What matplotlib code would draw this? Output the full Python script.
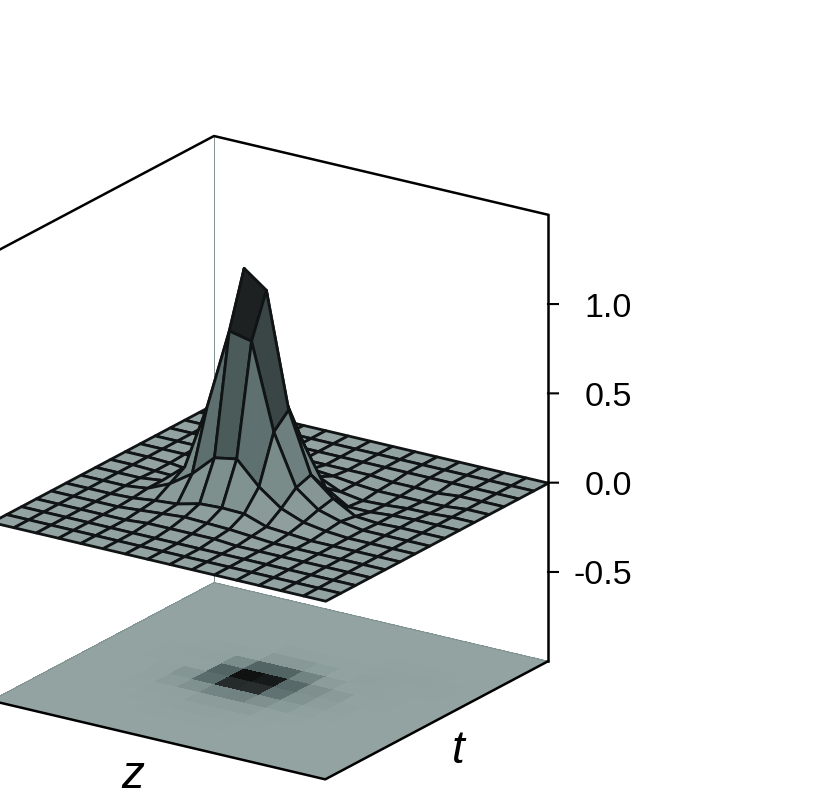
import numpy as np
import matplotlib
matplotlib.use("Agg")
import matplotlib.pyplot as plt
from matplotlib.colors import LinearSegmentedColormap, Normalize
from mpl_toolkits.mplot3d import proj3d

plt.rcParams['font.family'] = ['Liberation Sans', 'DejaVu Sans']

z_grid = list(range(16))
t_grid = list(range(16))
z_limits = [-1.0, 1.5]
ztick_values = [-0.5, 0.0, 0.5, 1.0]
ztick_labels = ['-0.5', '0.0', '0.5', '1.0']
height = [
    # t index 0 .. 15
    [0, 0, 0, 0, 0, 0, 0, 0, 0, 0, 0, 0, 0, 0, 0, 0],
    [0, 0, 0, 0, 0, 0, 0, 0, 0, 0, 0, 0, 0, 0, 0, 0],
    [0, 0, 0, 0, 0, 0, 0, 0, -.005, -.005, 0, 0, 0, 0, 0, 0],
    [0, 0, 0, 0, 0, .005, .015, .015, -.01, -.02, -.01, 0, 0, 0, 0, 0],
    [0, 0, 0, 0, .01, .02, .07, .12, .02, -.025, -.015, 0, 0, 0, 0, 0],
    [0, 0, 0, .01, .02, .03, .155, .483, .55, .2, .01, 0, 0, 0, 0, 0],
    [0, 0, 0, .01, .03, .061, .274, .94, 1.246, .55, .09, .02, 0, 0, 0, 0],
    [0, 0, 0, .01, .025, .067, .297, .912, 1.152, .55, .1, .02, 0, 0, 0, 0],
    [0, 0, 0, .01, .02, .063, .17, .433, .512, .28, .05, .01, 0, 0, 0, 0],
    [0, 0, 0, 0, .01, .02, .078, .15, .178, .06, -.005, -.005, 0, 0, 0, 0],
    [0, 0, 0, 0, 0, .01, .03, .056, .075, -.015, -.025, -.015, -.01, 0, 0, 0],
    [0, 0, 0, 0, 0, 0, .01, .02, .005, -.015, -.02, -.015, -.01, 0, 0, 0],
    [0, 0, 0, 0, 0, 0, 0, 0, -.005, -.005, -.01, -.015, -.012, 0, 0, 0],
    [0, 0, 0, 0, 0, 0, 0, 0, 0, 0, -.008, -.012, 0, 0, 0, 0],
    [0, 0, 0, 0, 0, 0, 0, 0, 0, 0, 0, 0, 0, 0, 0, 0],
    [0, 0, 0, 0, 0, 0, 0, 0, 0, 0, 0, 0, 0, 0, 0, 0],
]

W, H_PX = 817, 792
fig = plt.figure(figsize=(W / 100, H_PX / 100), dpi=100)
ax = fig.add_axes([0, 0, 600 / W, 600 / H_PX], projection='3d', computed_zorder=False)
ax.set_proj_type('ortho')
ax.view_init(elev=20.7, azim=-56.3)
ax.set_box_aspect((402, 402, 478))
ax.set_axis_off()
ax.patch.set_alpha(0)
for axis in (ax.xaxis, ax.yaxis, ax.zaxis):
    axis.set_ticks([])

zv = np.array(z_grid, float)
tv = np.array(t_grid, float)
Hgt = np.array(height, float)
X, Y = np.meshgrid(zv, tv, indexing='ij')
x0, x1, y0, y1 = zv[0], zv[-1], tv[0], tv[-1]
zlo, ztop = z_limits
ax.set_xlim(x0, x1)
ax.set_ylim(y0, y1)
ax.set_zlim(zlo, ztop)

cmap = LinearSegmentedColormap.from_list(
    'grey', [(0, '#92a3a1'), (0.4, '#586b6a'), (0.744, '#262b2b'), (1, '#101212')])
norm = Normalize(0, 1.25)

# upper surface: colour by the mean of the four corners, each cell painted
# back to front in grid order so the peak's faces hide one another properly
avg = (Hgt[:-1, :-1] + Hgt[1:, :-1] + Hgt[:-1, 1:] + Hgt[1:, 1:]) / 4
cell_colours = cmap(norm(np.abs(avg)))
n_z, n_t = avg.shape
for i in range(n_z):
    for j in range(n_t - 1, -1, -1):
        order = 3 + (i * n_t + (n_t - 1 - j)) / (n_z * n_t)
        ax.plot_surface(X[i:i + 2, j:j + 2], Y[i:i + 2, j:j + 2], Hgt[i:i + 2, j:j + 2],
                        rstride=1, cstride=1, facecolors=cell_colours[i:i + 1, j:j + 1],
                        shade=False, edgecolor='#111414', linewidth=2.0, zorder=order)

# projected map: colour by one corner of each cell
ax.plot_surface(X, Y, np.full_like(Hgt, zlo), rstride=1, cstride=1,
                facecolors=cmap(norm(np.abs(Hgt[:-1, 1:]))), shade=False,
                linewidth=0, antialiased=False, zorder=1)

thin = dict(color='#7f9190', lw=0.7)
ax.plot([x0, x0], [y1, y1], [zlo, ztop], zorder=0, **thin)
ax.plot([x0, x0, x1], [y0, y1, y1], [zlo, zlo, zlo], zorder=2, **thin)

box = dict(color='black', lw=1.8, solid_capstyle='projecting')
ax.plot([x0, x0, x1], [y0, y1, y1], [ztop] * 3, zorder=5, **box)
ax.plot([x1, x1], [y1, y1], [zlo, ztop], zorder=5, **box)
ax.plot([x0, x1, x1], [y0, y0, y1], [zlo] * 3, zorder=5, **box)

# z axis ticks, offset horizontally on screen from the right corner
dx_u, dy_u = 119 / 142.9 / 402 * 15, 79 / 142.9 / 402 * 15
for v in ztick_values:
    ax.plot([x1, x1 + 10 * dx_u], [y1, y1 + 10 * dy_u], [v, v], color='black', lw=1.5, zorder=5)


def px(p):
    x2, y2, _ = proj3d.proj_transform(p[0], p[1], p[2], ax.get_proj())
    return ax.transData.transform((x2, y2))


targets = [((x0, y1, ztop), (214, H_PX - 136)), ((x1, y1, zlo), (548, H_PX - 662))]
for _ in range(3):
    fig.canvas.draw()
    a, b = px(targets[0][0]), px(targets[1][0])
    s = (targets[1][1][0] - targets[0][1][0]) / (b[0] - a[0])
    bb = ax.get_position()
    l, bt, w = bb.x0 * W, bb.y0 * H_PX, bb.width * W
    nw = w * s
    nl = targets[0][1][0] - (a[0] - l) * s
    nb = targets[0][1][1] - (a[1] - bt) * s
    ax.set_position([nl / W, nb / H_PX, nw / W, nw / H_PX])

fig.canvas.draw()
for v, lab in zip(ztick_values, ztick_labels):
    tick_x, tick_y = px((x1, y1, v))
    fig.text((tick_x + 84) / W, (tick_y - 4) / H_PX, lab, ha='right', va='center',
             fontsize=24.5, color='black')

fig.text(133 / W, 1 - 776 / H_PX, 'z', style='italic', fontsize=33, ha='center', va='center')
fig.text(458 / W, 1 - 751 / H_PX, 't', style='italic', fontsize=33, ha='center', va='center')

fig.savefig('out.png', dpi=100)
